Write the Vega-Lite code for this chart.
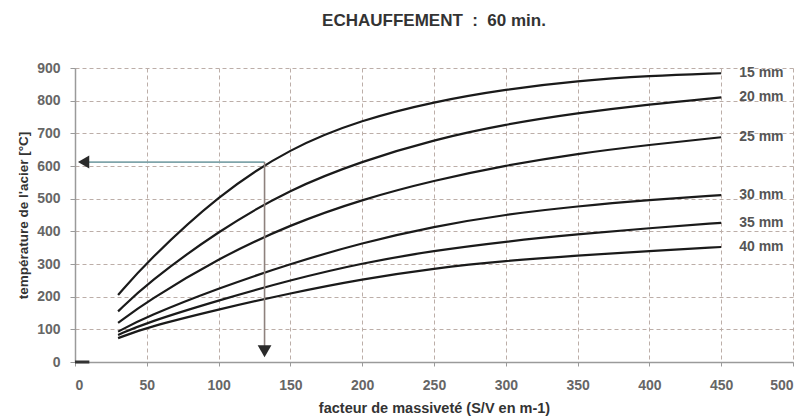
{
  "$schema": "https://vega.github.io/schema/vega-lite/v6.json",
  "width": 718,
  "height": 294,
  "autosize": {"type": "none"},
  "padding": {"left": 75, "top": 68, "right": 13, "bottom": 58},
  "background": "white",
  "title": {"text": "ECHAUFFEMENT\u00a0\u00a0:\u00a0\u00a060 min.", "fontSize": 17, "font": "Liberation Sans", "fontWeight": "bold", "color": "#333333", "offset": 31, "anchor": "middle"},
  "config": {
    "view": {"stroke": null},
    "font": "Liberation Sans",
    "axis": {"grid": true, "gridDash": [4, 3], "gridColor": "#bcaea8", "gridWidth": 1,
      "domainColor": "#9a9a9a", "domainWidth": 1.5, "tickColor": "#9a9a9a",
      "labelFontSize": 14, "labelFontWeight": "bold", "labelColor": "#666666", "labelFont": "Liberation Sans", "labelOverlap": false,
      "titleFontWeight": "bold", "titleColor": "#333333", "titleFont": "Liberation Sans"},
    "axisX": {"tickSize": 4, "labelPadding": 12, "titleFontSize": 14.5, "titlePadding": 9},
    "axisY": {"tickSize": 5, "labelPadding": 10, "titleFontSize": 13.5, "titlePadding": 6}
  },
  "encoding": {
    "x": {"field": "x", "type": "quantitative", "title": "facteur de massiveté (S/V en m-1)",
      "scale": {"domain": [0, 500], "nice": false, "zero": true},
      "axis": {"values": [0, 50, 100, 150, 200, 250, 300, 350, 400, 450, 500]}},
    "y": {"field": "t", "type": "quantitative", "title": "température de l'acier  [°C]",
      "scale": {"domain": [0, 900], "nice": false},
      "axis": {"values": [0, 100, 200, 300, 400, 500, 600, 700, 800, 900]}}
  },
  "layer": [
    {
      "data": {"values": [
        {"s": "15 mm", "x": 30, "t": 205}, {"s": "15 mm", "x": 50, "t": 306}, {"s": "15 mm", "x": 100, "t": 512}, {"s": "15 mm", "x": 150, "t": 656}, {"s": "15 mm", "x": 200, "t": 742}, {"s": "15 mm", "x": 250, "t": 797}, {"s": "15 mm", "x": 300, "t": 835}, {"s": "15 mm", "x": 350, "t": 861}, {"s": "15 mm", "x": 400, "t": 876}, {"s": "15 mm", "x": 450, "t": 884},
        {"s": "20 mm", "x": 30, "t": 155}, {"s": "20 mm", "x": 50, "t": 240}, {"s": "20 mm", "x": 100, "t": 402}, {"s": "20 mm", "x": 150, "t": 530}, {"s": "20 mm", "x": 200, "t": 615}, {"s": "20 mm", "x": 250, "t": 681}, {"s": "20 mm", "x": 300, "t": 728}, {"s": "20 mm", "x": 350, "t": 762}, {"s": "20 mm", "x": 400, "t": 789}, {"s": "20 mm", "x": 450, "t": 810},
        {"s": "25 mm", "x": 30, "t": 120}, {"s": "25 mm", "x": 50, "t": 185}, {"s": "25 mm", "x": 100, "t": 318}, {"s": "25 mm", "x": 150, "t": 421}, {"s": "25 mm", "x": 200, "t": 498}, {"s": "25 mm", "x": 250, "t": 556}, {"s": "25 mm", "x": 300, "t": 602}, {"s": "25 mm", "x": 350, "t": 638}, {"s": "25 mm", "x": 400, "t": 665}, {"s": "25 mm", "x": 450, "t": 688},
        {"s": "30 mm", "x": 30, "t": 93}, {"s": "30 mm", "x": 50, "t": 139}, {"s": "30 mm", "x": 100, "t": 226}, {"s": "30 mm", "x": 150, "t": 301}, {"s": "30 mm", "x": 200, "t": 365}, {"s": "30 mm", "x": 250, "t": 415}, {"s": "30 mm", "x": 300, "t": 452}, {"s": "30 mm", "x": 350, "t": 477}, {"s": "30 mm", "x": 400, "t": 496}, {"s": "30 mm", "x": 450, "t": 511},
        {"s": "35 mm", "x": 30, "t": 83}, {"s": "35 mm", "x": 50, "t": 121}, {"s": "35 mm", "x": 100, "t": 189}, {"s": "35 mm", "x": 150, "t": 251}, {"s": "35 mm", "x": 200, "t": 303}, {"s": "35 mm", "x": 250, "t": 341}, {"s": "35 mm", "x": 300, "t": 369}, {"s": "35 mm", "x": 350, "t": 391}, {"s": "35 mm", "x": 400, "t": 410}, {"s": "35 mm", "x": 450, "t": 426},
        {"s": "40 mm", "x": 30, "t": 73}, {"s": "40 mm", "x": 50, "t": 106}, {"s": "40 mm", "x": 100, "t": 161}, {"s": "40 mm", "x": 150, "t": 211}, {"s": "40 mm", "x": 200, "t": 254}, {"s": "40 mm", "x": 250, "t": 287}, {"s": "40 mm", "x": 300, "t": 310}, {"s": "40 mm", "x": 350, "t": 326}, {"s": "40 mm", "x": 400, "t": 340}, {"s": "40 mm", "x": 450, "t": 352}
      ]},
      "layer": [
        {
          "mark": {"type": "line", "interpolate": "basis", "color": "#1a1a1a", "strokeWidth": 2.2},
          "encoding": {"detail": {"field": "s", "type": "nominal"}}
        },
        {
          "transform": [{"filter": "datum.x == 450"}],
          "mark": {"type": "text", "align": "left", "baseline": "middle", "dx": 18, "fontSize": 14, "fontWeight": "bold", "color": "#555555", "font": "Liberation Sans"},
          "encoding": {"text": {"field": "s"}}
        }
      ]
    },
    {
      "data": {"values": [{"x": 8, "x2": 132, "t": 612}]},
      "mark": {"type": "rule", "color": "#7fa4aa", "strokeWidth": 1.6},
      "encoding": {"x2": {"field": "x2"}}
    },
    {
      "data": {"values": [{"x": 132, "t": 612, "t2": 40}]},
      "mark": {"type": "rule", "color": "#8e817d", "strokeWidth": 1.6},
      "encoding": {"y2": {"field": "t2"}}
    },
    {
      "data": {"values": [{"x": 6, "t": 612}]},
      "mark": {"type": "point", "shape": "triangle-left", "filled": true, "color": "#2a2a2a", "size": 170, "opacity": 1},
      "encoding": {}
    },
    {
      "data": {"values": [{"x": 132, "t": 33}]},
      "mark": {"type": "point", "shape": "triangle-down", "filled": true, "color": "#2a2a2a", "size": 190, "opacity": 1},
      "encoding": {}
    },
    {
      "data": {"values": [{"x": 0, "x2": 10, "t": 0}]},
      "mark": {"type": "rule", "color": "#333333", "strokeWidth": 3},
      "encoding": {"x2": {"field": "x2"}}
    }
  ]
}
